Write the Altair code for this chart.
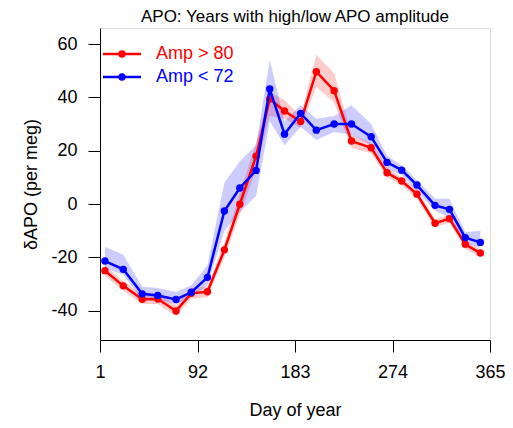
import altair as alt
import pandas as pd

day = [5.6, 22.7, 40.4, 54.9, 72.0, 86.2, 101.3, 117.1, 131.5, 146.7, 159.4, 173.2,
       188.3, 202.9, 219.5, 235.7, 254.1, 268.9, 282.6, 296.8, 313.7, 327.1, 341.9, 356.0]

red = [-25.0, -30.7, -35.7, -35.6, -40.1, -33.5, -32.9, -17.2, -0.1, 17.9, 39.4, 34.9,
       30.9, 49.6, 42.5, 23.6, 21.1, 11.7, 8.6, 3.7, -7.2, -5.5, -15.1, -18.4]
red_lo = [-27, -32.5, -37.5, -37.5, -42, -35.5, -35, -20, -4, 13, 33, 32,
          28.5, 44, 38, 21, 19, 10, 7, 2, -8.7, -7, -17, -19.8]
red_hi = [-23, -29, -34, -33.5, -38, -31.5, -31, -14.5, 4, 23, 42, 39,
          33, 56, 49, 26, 23, 13.5, 10, 5.5, -5.8, -4, -13.5, -17]

blue = [-21.4, -24.5, -33.7, -34.3, -35.8, -33.1, -27.5, -2.6, 6.0, 12.6, 43.1, 26.2,
        34.0, 27.7, 30.0, 30.0, 25.2, 15.6, 12.7, 7.1, -0.5, -2.0, -12.6, -14.4]
blue_lo = [-24, -26.5, -36, -36, -37.5, -35, -30.5, -10, -3, 3, 31, 22,
           29, 24, 27, 26, 22, 13, 11, 5, -2.5, -5, -14.5, -16.5]
blue_hi = [-16, -19, -31, -31.5, -33, -30.5, -23, 8, 16, 22, 54, 31,
           37, 32, 33, 37, 30, 18, 14.5, 9, 2, 2, -10.5, -10]

series = ["Amp > 80", "Amp < 72"]
colors = ["#FF0000", "#0000FF"]
x_ticks = [1, 92, 183, 274, 365]
y_ticks = [-40, -20, 0, 20, 40, 60]

FONT = "Liberation Sans"

df_red = pd.DataFrame({"day": day, "val": red, "lo": red_lo, "hi": red_hi})
df_blue = pd.DataFrame({"day": day, "val": blue, "lo": blue_lo, "hi": blue_hi})

xs = alt.Scale(domain=[1, 365], nice=False, zero=False)
ys = alt.Scale(domain=[-51, 66], nice=False, zero=False)

xaxis = alt.Axis(values=x_ticks, title="Day of year", grid=False, tickSize=12,
                 labelPadding=11, titlePadding=20, labelFontSize=18, titleFontSize=18,
                 titleFontWeight="normal", labelFont=FONT, titleFont=FONT,
                 domainColor="black", tickColor="black", labelColor="black",
                 titleColor="black", labelFlush=False, labelOverlap=False)
yaxis = alt.Axis(values=y_ticks, title="δAPO (per meg)", grid=False, tickSize=12,
                 labelPadding=11, titlePadding=10, labelFontSize=18, titleFontSize=18,
                 titleFontWeight="normal", labelFont=FONT, titleFont=FONT,
                 domainColor="black", tickColor="black", labelColor="black",
                 titleColor="black", labelFlush=False,
                 labelExpr="toString(datum.value)")


def band(df, color):
    return alt.Chart(df).mark_area(color=color, opacity=0.2).encode(
        x=alt.X("day:Q", scale=xs, axis=xaxis),
        y=alt.Y("lo:Q", scale=ys, axis=yaxis),
        y2="hi:Q",
    )


def line(df, color):
    base = alt.Chart(df).encode(
        x=alt.X("day:Q", scale=xs, axis=xaxis),
        y=alt.Y("val:Q", scale=ys, axis=yaxis),
    )
    return base.mark_line(color=color, strokeWidth=2.5) + base.mark_point(
        color=color, filled=True, opacity=1, size=55)


legend_layers = []
for i, (lab, col) in enumerate(zip(series, colors)):
    yy = 26 + 23 * i
    d = pd.DataFrame({"label": [lab]})
    legend_layers.append(alt.Chart(d).mark_rule(color=col, strokeWidth=2.5).encode(
        x=alt.value(3), x2=alt.value(41), y=alt.value(yy)))
    legend_layers.append(alt.Chart(d).mark_point(color=col, filled=True, opacity=1, size=55).encode(
        x=alt.value(22), y=alt.value(yy)))
    legend_layers.append(alt.Chart(d).mark_text(color=col, fontSize=18, font=FONT, align="left",
                                                 baseline="middle").encode(
        x=alt.value(56), y=alt.value(yy), text="label:N"))

chart = alt.layer(
    band(df_red, colors[0]), band(df_blue, colors[1]),
    line(df_red, colors[0]), line(df_blue, colors[1]),
    *legend_layers,
).properties(
    width=390, height=312,
    title=alt.TitleParams("APO: Years with high/low APO amplitude", fontSize=17,
                          fontWeight="normal", font=FONT, color="black", anchor="middle",
                          offset=2),
    autosize=alt.AutoSizeParams(type="none"),
    padding={"left": 92, "top": 20, "right": 15, "bottom": 80},
).configure_view(stroke=None).configure(background="white")

chart.save("out.html", embed_options={"renderer": "svg", "actions": False})
